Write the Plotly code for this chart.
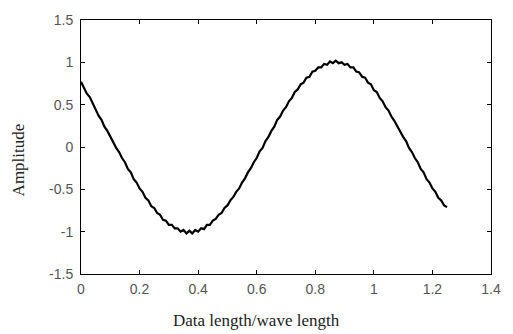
import numpy as np
import plotly.graph_objects as go

x_vals = np.linspace(0, 1.25, 126)
amplitude = [
    0.77, 0.70, 0.63, 0.59, 0.52, 0.44, 0.37, 0.32, 0.24, 0.19,
    0.12, 0.07, -0.01, -0.06, -0.13, -0.18, -0.26, -0.30, -0.38, -0.42,
    -0.49, -0.53, -0.60, -0.63, -0.70, -0.72, -0.78, -0.80, -0.86, -0.87,
    -0.92, -0.92, -0.96, -0.96, -1.00, -0.98, -1.02, -0.99, -1.02, -0.98,
    -1.00, -0.96, -0.97, -0.92, -0.92, -0.87, -0.85, -0.80, -0.78, -0.72,
    -0.69, -0.63, -0.59, -0.53, -0.49, -0.42, -0.37, -0.30, -0.25, -0.18,
    -0.13, -0.05, -0.01, 0.07, 0.12, 0.19, 0.24, 0.32, 0.36, 0.43,
    0.47, 0.54, 0.58, 0.65, 0.68, 0.74, 0.76, 0.82, 0.83, 0.89,
    0.90, 0.94, 0.94, 0.98, 0.97, 1.01, 0.99, 1.02, 0.99, 1.00,
    0.97, 0.98, 0.94, 0.94, 0.89, 0.88, 0.83, 0.82, 0.76, 0.74,
    0.67, 0.65, 0.58, 0.54, 0.47, 0.43, 0.36, 0.31, 0.24, 0.19,
    0.12, 0.07, -0.01, -0.06, -0.13, -0.18, -0.26, -0.30, -0.38, -0.42,
    -0.49, -0.53, -0.60, -0.63, -0.69, -0.71,
]
x_ticks = [0, 0.2, 0.4, 0.6, 0.8, 1.0, 1.2, 1.4]
x_tick_labels = ["0", "0.2", "0.4", "0.6", "0.8", "1", "1.2", "1.4"]
y_ticks = [-1.5, -1, -0.5, 0, 0.5, 1, 1.5]
y_tick_labels = ["-1.5", "-1", "-0.5", "0", "0.5", "1", "1.5"]

fig = go.Figure()
fig.add_trace(go.Scatter(x=x_vals, y=amplitude, mode="lines",
                         line=dict(color="black", width=2.2), showlegend=False))

tick_font = dict(family="Liberation Sans, Arial, sans-serif", size=14, color="#555555")
axis_common = dict(showline=True, linecolor="black", linewidth=1, mirror="allticks",
                   ticks="inside", ticklen=4, tickcolor="black", showgrid=False,
                   zeroline=False, tickfont=tick_font)

title_font = dict(family="Liberation Serif, Times New Roman, serif", size=17, color="#222222")

fig.update_layout(
    width=513, height=334,
    margin=dict(l=81, r=17, t=12, b=60),
    paper_bgcolor="white", plot_bgcolor="white",
    xaxis=dict(range=[0, 1.4], tickvals=x_ticks, ticktext=x_tick_labels,
               ticklabelstandoff=2, **axis_common),
    yaxis=dict(range=[-1.5, 1.5], tickvals=y_ticks, ticktext=y_tick_labels,
               ticklabelstandoff=4, **axis_common),
    annotations=[
        dict(text="Data length/wave length", xref="paper", yref="paper",
             x=0.429, y=-0.183, showarrow=False, xanchor="center", yanchor="middle",
             font=title_font),
        dict(text="Amplitude", xref="paper", yref="paper",
             x=-0.152, y=0.45, showarrow=False, textangle=-90,
             xanchor="center", yanchor="middle", font=title_font),
    ],
)

fig.write_html("out.html")
